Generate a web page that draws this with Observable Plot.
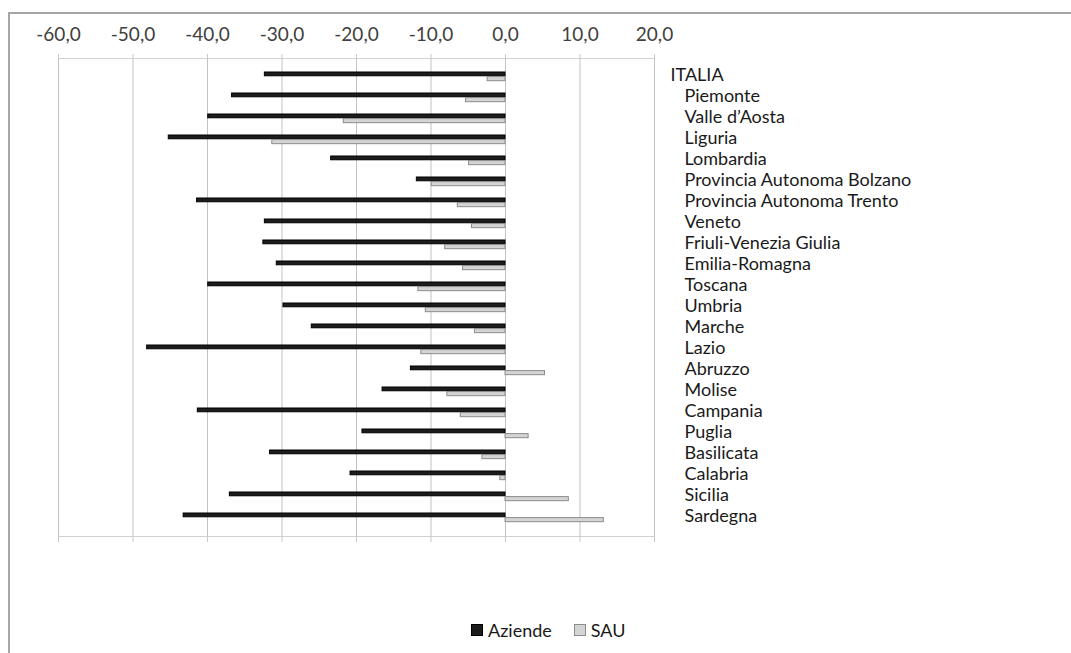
<!DOCTYPE html>
<html>
<head>
<meta charset="utf-8">
<script src="https://cdn.jsdelivr.net/npm/d3@7"></script>
<script src="https://cdn.jsdelivr.net/npm/@observablehq/plot@0.6"></script>
<style>
  html, body { margin: 0; padding: 0; background: #fff; }
  #wrap { position: relative; width: 1071px; height: 653px; overflow: hidden; font-family: Lato, "Open Sans", sans-serif; }
  #border { position: absolute; left: 8px; top: 12px; right: -10px; bottom: -10px;
            border-left: 2px solid #a6a6a6; border-top: 2px solid #a6a6a6; }
  #chart { position: absolute; left: 0; top: 0; }
  #legend { position: absolute; top: 617px; left: 471px; display: flex; align-items: center;
            font-size: 18px; line-height: 26px; color: #1a1a1a; }
  #legend .sw { display: inline-block; width: 12px; height: 12px; margin-right: 5px; box-sizing: border-box; }
  #legend .item { display: flex; align-items: center; margin-right: 22px; }
</style>
</head>
<body>
<div id="wrap">
  <div id="border"></div>
  <div id="chart"></div>
  <div id="legend"></div>
</div>
<script>
// Variazione percentuale di aziende agricole e SAU per regione
const regions = [
  "ITALIA", "Piemonte", "Valle d’Aosta", "Liguria", "Lombardia",
  "Provincia Autonoma Bolzano", "Provincia Autonoma Trento", "Veneto",
  "Friuli-Venezia Giulia", "Emilia-Romagna", "Toscana", "Umbria", "Marche",
  "Lazio", "Abruzzo", "Molise", "Campania", "Puglia", "Basilicata",
  "Calabria", "Sicilia", "Sardegna"
];
const aziende = [
  -32.3, -36.7, -39.9, -45.2, -23.4, -11.9, -41.4, -32.3, -32.5, -30.7, -39.9,
  -29.8, -26.0, -48.1, -12.7, -16.5, -41.3, -19.2, -31.6, -20.8, -37.0, -43.2
];
const sau = [
  -2.4, -5.3, -21.7, -31.3, -4.9, -9.9, -6.4, -4.5, -8.1, -5.7, -11.7,
  -10.7, -4.1, -11.3, 5.3, -7.8, -6.0, 3.1, -3.1, -0.7, 8.5, 13.2
];
const xTicks = [-60, -50, -40, -30, -20, -10, 0, 10, 20];
const seriesNames = ["Aziende", "SAU"];
const seriesFill = ["#1c1c1c", "#d4d4d4"];
const seriesStroke = ["#000000", "#8c8c8c"];

const rows = regions.map((region, i) => ({region, aziende: aziende[i], sau: sau[i]}));
const fmt = d => (d < 0 ? "-" : "") + Math.abs(d).toFixed(1).replace(".", ",");

const H = 600, mTop = 58, mBottom = 64;
const step = (H - mTop - mBottom) / regions.length;

const chart = Plot.plot({
  width: 1071,
  height: H,
  marginTop: mTop,
  marginBottom: mBottom,
  marginLeft: 58,
  marginRight: 417,
  style: {fontFamily: "Lato, 'Open Sans', sans-serif", background: "transparent", overflow: "visible"},
  x: {domain: [-60, 20]},
  y: {domain: regions, padding: 0, axis: null},
  marks: [
    Plot.ruleX(xTicks, {stroke: "#c2c2c2", strokeWidth: 1}),
    Plot.frame({anchor: "top", stroke: "#d0d0d0"}),
    Plot.frame({anchor: "bottom", stroke: "#d0d0d0"}),
    Plot.axisX({anchor: "top", ticks: xTicks, tickFormat: fmt, tickSize: 5, tickPadding: 13,
                stroke: "#c8c8c8", fill: "#404040", fontSize: 19}),
    Plot.axisX({anchor: "bottom", ticks: xTicks, tickFormat: () => "", tickSize: 6,
                stroke: "#c8c8c8"}),
    Plot.barX(rows, {x: "aziende", y: "region", fill: seriesFill[0], stroke: seriesStroke[0],
                     insetTop: 6, insetBottom: step - 10.5}),
    Plot.barX(rows, {x: "sau", y: "region", fill: seriesFill[1], stroke: seriesStroke[1],
                     insetTop: 10.6, insetBottom: step - 15.4}),
    Plot.text(regions.slice(0, 1), {y: d => d, frameAnchor: "right", textAnchor: "start",
                                    dx: 16, dy: -2, fontSize: 18, fill: "#1a1a1a"}),
    Plot.text(regions.slice(1), {y: d => d, frameAnchor: "right", textAnchor: "start",
                                 dx: 30, dy: -2, fontSize: 18, fill: "#1a1a1a"})
  ]
});
document.getElementById("chart").appendChild(chart);

const legend = document.getElementById("legend");
seriesNames.forEach((name, i) => {
  const item = document.createElement("span");
  item.className = "item";
  const sw = document.createElement("span");
  sw.className = "sw";
  sw.style.background = seriesFill[i];
  sw.style.border = "1px solid " + seriesStroke[i];
  item.appendChild(sw);
  item.appendChild(document.createTextNode(name));
  legend.appendChild(item);
});
</script>
</body>
</html>
